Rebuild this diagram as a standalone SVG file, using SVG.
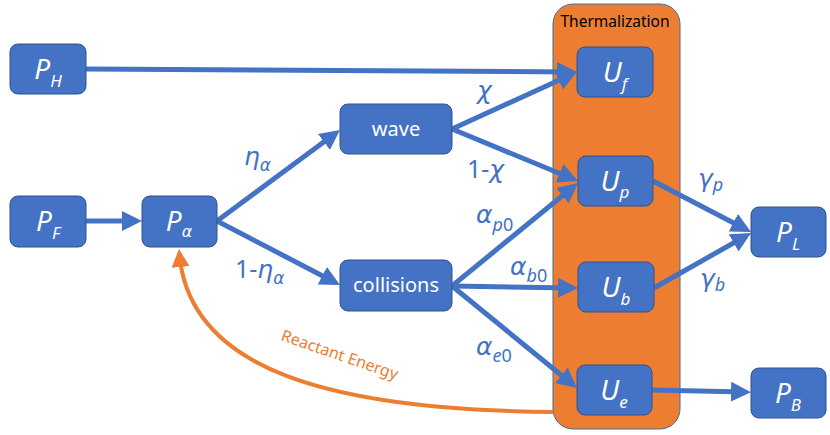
<svg xmlns="http://www.w3.org/2000/svg" width="830" height="435" viewBox="0 0 830 435">
<defs>
<style>
.node{fill:#4472C4;stroke:#2F528F;stroke-width:1}
.nt{font-family:"Noto Sans","Open Sans","Liberation Sans",sans-serif;fill:#fff;text-anchor:middle}
.it{font-style:italic;font-size:28px}
.sub{font-size:17px}
.gsub{font-family:"DejaVu Sans",sans-serif;font-size:16px}
.word{font-size:20px}
.conn{stroke:#4472C4;stroke-width:5;fill:none;marker-end:url(#ah)}
.lbl{font-family:"DejaVu Sans","Noto Sans",sans-serif;fill:#4472C4;font-style:italic;font-size:25px}
.num{font-family:"Noto Sans","Open Sans",sans-serif;font-style:normal}
.ls{font-family:"Noto Sans","Open Sans",sans-serif;font-size:18px}
.lg{font-size:17px}
</style>
<marker id="ah" markerUnits="userSpaceOnUse" markerWidth="20" markerHeight="20" viewBox="0 0 20 20" refX="14" refY="10" orient="auto">
<path d="M0,0 L20,10 L0,20 z" fill="#4472C4"/>
</marker>
<marker id="oh" markerUnits="userSpaceOnUse" markerWidth="18" markerHeight="18" viewBox="0 0 18 18" refX="12" refY="9" orient="auto">
<path d="M0,0 L18,9 L0,18 z" fill="#ED7D31"/>
</marker>
</defs>
<rect width="830" height="435" fill="#fff"/>
<g id="thermalization">
<rect x="553" y="4" width="127" height="425" rx="20" fill="#ED7D31" stroke="#41719C" stroke-width="1"/>
<text x="615" y="27" font-family="'Noto Sans','Open Sans',sans-serif" font-size="15.5" fill="#000" text-anchor="middle">Thermalization</text>
</g>
<g id="connectors">
<line class="conn" x1="86" y1="69" x2="571" y2="72"/>
<line class="conn" x1="86" y1="221" x2="136" y2="221"/>
<line class="conn" x1="217" y1="221" x2="335.2" y2="133.6"/>
<line class="conn" x1="217" y1="221" x2="334.7" y2="282.2"/>
<line class="conn" x1="452" y1="129" x2="571.5" y2="74.5"/>
<line class="conn" x1="452" y1="129" x2="572.5" y2="178.7"/>
<line class="conn" x1="452" y1="286" x2="573.3" y2="186.8"/>
<line class="conn" x1="452" y1="286" x2="572" y2="288"/>
<line class="conn" x1="452" y1="286" x2="572.3" y2="384.2"/>
<line class="conn" x1="653" y1="181" x2="745.7" y2="229.2"/>
<line class="conn" x1="654" y1="288" x2="745.8" y2="236"/>
<line class="conn" x1="652" y1="390" x2="745" y2="392"/>
<path d="M553,412 C330,410 190,370 179.5,255" stroke="#ED7D31" stroke-width="4" fill="none" marker-end="url(#oh)"/>
<text x="338" y="360" transform="rotate(19 338 360)" font-family="'Noto Sans','Open Sans',sans-serif" font-size="16" fill="#ED7D31" text-anchor="middle">Reactant Energy</text>
<text class="lbl" x="244" y="165">η<tspan class="lg" dy="6">α</tspan></text>
<text class="lbl" x="235" y="278"><tspan class="num">1-</tspan>η<tspan class="lg" dy="6">α</tspan></text>
<text class="lbl" x="477" y="99">χ</text>
<text class="lbl" x="467" y="178"><tspan class="num">1-</tspan>χ</text>
<text class="lbl" x="476" y="223">α<tspan class="ls" dy="8">p<tspan font-style="normal">0</tspan></tspan></text>
<text class="lbl" x="510" y="275">α<tspan class="ls" dy="7">b<tspan font-style="normal">0</tspan></tspan></text>
<text class="lbl" x="476" y="355">α<tspan class="ls" dy="7">e<tspan font-style="normal">0</tspan></tspan></text>
<text class="lbl" x="698" y="187">γ<tspan class="ls" dy="4">p</tspan></text>
<text class="lbl" x="700" y="287">γ<tspan class="ls" dy="4">b</tspan></text>
</g>
<g id="PH"><rect class="node" x="10" y="44" width="76" height="50" rx="8"/><text class="nt it" x="48" y="79">P<tspan class="sub" dy="8">H</tspan></text></g>
<g id="PF"><rect class="node" x="10" y="196" width="76" height="51" rx="8"/><text class="nt it" x="48" y="231">P<tspan class="sub" dy="8">F</tspan></text></g>
<g id="Palpha"><rect class="node" x="142" y="196" width="75" height="51" rx="8"/><text class="nt it" x="179" y="231">P<tspan class="gsub" dy="6">α</tspan></text></g>
<g id="wave"><rect class="node" x="340" y="104" width="112" height="50" rx="8"/><text class="nt word" x="396" y="136">wave</text></g>
<g id="collisions"><rect class="node" x="340" y="260" width="112" height="51" rx="8"/><text class="nt word" x="396" y="292">collisions</text></g>
<g id="Uf"><rect class="node" x="577" y="47" width="76" height="50" rx="8"/><text class="nt it" x="615" y="82">U<tspan class="sub" dy="8">f</tspan></text></g>
<g id="Up"><rect class="node" x="578" y="156" width="75" height="50" rx="8"/><text class="nt it" x="615" y="191">U<tspan class="sub" dy="7">p</tspan></text></g>
<g id="Ub"><rect class="node" x="578" y="262" width="76" height="50" rx="8"/><text class="nt it" x="616" y="297">U<tspan class="sub" dy="8">b</tspan></text></g>
<g id="Ue"><rect class="node" x="577" y="365" width="75" height="50" rx="8"/><text class="nt it" x="614" y="400">U<tspan class="sub" dy="8">e</tspan></text></g>
<g id="PL"><rect class="node" x="751" y="207" width="75" height="50" rx="8"/><text class="nt it" x="788" y="242">P<tspan class="sub" dy="8">L</tspan></text></g>
<g id="PB"><rect class="node" x="751" y="368" width="75" height="50" rx="8"/><text class="nt it" x="788" y="403">P<tspan class="sub" dy="8">B</tspan></text></g>
</svg>
